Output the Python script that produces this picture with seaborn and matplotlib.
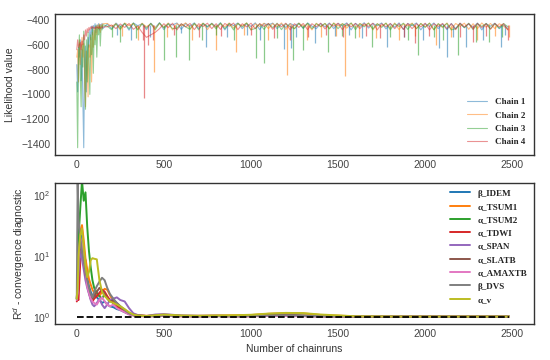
import numpy as np
import pandas as pd
import matplotlib
matplotlib.use("Agg")
import matplotlib.pyplot as plt
import seaborn as sns

# ---- likelihood traces (every 5 runs early, every 25 later)
runs_top = list(range(0, 155, 5)) + list(range(175, 2500, 25))

chain1 = [-760, -980, -620, -700, -560, -890, -640, -1050, -1430, -720, -610, -980, -700, -540, -620, -480,
          -560, -450, -520, -445, -470, -430, -500, -440, -455, -430, -480, -436, -448, -428, -470,
          -432, -470, -425, -455, -428, -482, -424, -446, -430, -478,
          -426, -462, -422, -478, -430, -440, -424, -476, -428, -450,
          -423, -470, -430, -458, -426, -455, -422, -480, -428, -445,
          -424, -470, -430, -452, -423, -478, -428, -440, -425, -470,
          -432, -460, -428, -445, -426, -468, -424, -450, -470, -428,
          -455, -424, -470, -428, -446, -423, -480, -427, -452, -422,
          -465, -428, -446, -424, -472, -430, -458, -423, -476, -428,
          -446, -424, -480, -430, -452, -424, -470, -432, -478, -428,
          -470, -426, -462, -430, -460, -424, -480, -430, -450, -426,
          -470, -440, -470]
chain2 = [-700, -640, -900, -560, -760, -620, -540, -700, -590, -880, -1100, -650, -760, -1020, -600, -700,
          -540, -900, -500, -620, -470, -560, -450, -520, -440, -470, -432, -500, -438, -455, -430,
          -428, -452, -430, -480, -424, -446, -428, -475, -426, -455,
          -430, -470, -428, -462, -424, -480, -430, -448, -423, -470,
          -430, -452, -426, -478, -428, -460, -430, -455, -424, -465,
          -428, -448, -424, -480, -430, -452, -426, -470, -428, -455,
          -424, -476, -430, -470, -425, -452, -430, -480, -426, -455,
          -428, -472, -424, -448, -430, -466, -426, -462, -428, -446,
          -424, -480, -430, -450, -426, -468, -424, -478, -430, -448,
          -425, -470, -428, -455, -426, -480, -430, -462, -424, -476,
          -428, -450, -426, -475, -430, -470, -424, -458, -428, -470,
          -430, -450, -478]
chain3 = [-900, -1430, -700, -520, -850, -1100, -600, -780, -490, -640, -1120, -560, -900, -500, -760, -1000,
          -520, -680, -460, -830, -480, -600, -445, -700, -460, -520, -440, -610, -450, -480, -438,
          -450, -478, -432, -470, -428, -470, -425, -480, -430, -465,
          -428, -480, -424, -462, -430, -470, -466, -432, -455, -476,
          -428, -480, -426, -452, -430, -472, -425, -470, -430, -480,
          -428, -455, -424, -480, -468, -430, -476, -428, -462, -426,
          -478, -430, -455, -470, -428, -466, -426, -470, -430, -452,
          -428, -470, -426, -470, -430, -448, -424, -478, -430, -455,
          -426, -472, -430, -460, -425, -480, -430, -452, -426, -476,
          -430, -470, -428, -460, -425, -478, -430, -455, -428, -480,
          -470, -430, -462, -426, -478, -430, -452, -428, -470, -430,
          -466, -428, -455]
chain4 = [-640, -560, -620, -600, -580, -640, -570, -600, -520, -560, -480, -530, -470, -500, -460, -480,
          -455, -470, -450, -465, -460, -470, -455, -462, -458, -468, -452, -470, -460, -465, -455,
          -455, -440, -470, -432, -460, -428, -475, -450, -500, -540,
          -520, -500, -470, -430, -462, -426, -480, -430, -455, -428,
          -478, -430, -452, -426, -470, -430, -476, -428, -450, -425,
          -478, -430, -455, -426, -470, -430, -452, -428, -475, -430,
          -455, -426, -480, -430, -460, -428, -478, -430, -455, -426,
          -472, -430, -450, -426, -478, -430, -455, -428, -470, -430,
          -452, -426, -480, -430, -455, -428, -470, -430, -476, -428,
          -470, -430, -455, -426, -480, -430, -452, -428, -470, -430,
          -478, -426, -455, -430, -470, -428, -462, -430, -475, -428,
          -455, -430, -480]

# single-sample drops of each chain (run, likelihood)
spike_runs1 = [230, 310, 420, 600, 742, 860, 980, 1050, 1187, 1227, 1260, 1370, 1480, 1560, 1640, 1781,
               1880, 1990, 2081, 2125, 2160, 2232, 2330, 2434, 2460]
spike_vals1 = [-520, -560, -540, -505, -615, -540, -520, -560, -630, -625, -540, -585, -530, -520, -545, -615,
               -540, -560, -629, -696, -540, -615, -560, -615, -520]
spike_runs2 = [260, 350, 445, 520, 660, 799, 913, 960, 1100, 1205, 1320, 1400, 1490, 1541, 1620, 1720,
               1850, 1940, 2062, 2150, 2300, 2400, 2480]
spike_vals2 = [-530, -560, -817, -540, -560, -642, -655, -520, -560, -843, -560, -540, -530, -850, -540, -545,
               -560, -530, -600, -540, -560, -530, -540]
spike_runs3 = [200, 250, 340, 502, 571, 645, 720, 800, 900, 1027, 1073, 1150, 1244, 1301, 1444, 1520, 1600,
               1695, 1800, 1900, 1958, 2050, 2100, 2186, 2289, 2367, 2440]
spike_vals3 = [-540, -580, -545, -723, -696, -723, -560, -520, -560, -709, -750, -545, -723, -642, -655, -530,
               -545, -618, -540, -560, -682, -540, -560, -682, -575, -575, -540]
spike_runs4 = [380, 388, 410, 440, 560, 700, 830, 1000, 1130, 1225, 1330, 1430, 1530, 1660, 1740, 1880,
               1939, 2020, 2200, 2275, 2350, 2476]
spike_vals4 = [-560, -1030, -600, -560, -520, -540, -530, -520, -545, -560, -540, -520, -540, -530, -545, -540,
               -588, -530, -540, -575, -530, -560]
chain_names = ["Chain 1", "Chain 2", "Chain 3", "Chain 4"]

# ---- convergence diagnostic
runs_bot = [0, 5, 10, 20, 30, 40, 50, 60, 70, 80, 90, 100, 115, 130, 145, 160, 175, 190, 210, 230,
            250, 275, 300, 325, 350, 400, 450, 500, 600, 700, 800, 900, 1000, 1100, 1200, 1300, 1400,
            1600, 1900, 2200, 2480]
b_idem = [2.0, 2.4, 6.0, 14, 22, 11, 8.5, 4.5, 3.2, 2.6, 2.2, 2.4, 2.1, 1.9, 1.7, 1.8, 1.6, 1.5, 1.45, 1.35,
          1.3, 1.2, 1.12, 1.08, 1.06, 1.04, 1.05, 1.06, 1.04, 1.03, 1.04, 1.03, 1.04, 1.05, 1.06, 1.04, 1.03,
          1.02, 1.02, 1.02, 1.02]
a_tsum1 = [1.9, 3.5, 12, 25, 32, 18, 9, 6, 4.2, 3.4, 2.8, 2.5, 2.3, 2.2, 2.6, 2.9, 2.8, 2.3, 1.8, 1.6,
           1.45, 1.3, 1.15, 1.1, 1.08, 1.05, 1.06, 1.08, 1.05, 1.05, 1.06, 1.07, 1.08, 1.13, 1.16, 1.15, 1.08,
           1.03, 1.02, 1.02, 1.02]
a_tsum2 = [2.0, 3.0, 20, 60, 170, 80, 110, 30, 12, 6.5, 4.0, 3.0, 2.5, 2.2, 2.0, 2.4, 2.1, 1.9, 1.7, 1.5,
           1.35, 1.25, 1.12, 1.07, 1.05, 1.03, 1.04, 1.05, 1.04, 1.03, 1.04, 1.03, 1.04, 1.06, 1.07, 1.05, 1.03,
           1.02, 1.02, 1.02, 1.02]
a_tdwi = [1.8, 2.0, 1.9, 8, 15, 10, 6, 3.5, 2.5, 2.0, 1.8, 2.0, 2.2, 2.5, 2.8, 2.6, 2.2, 1.9, 1.7, 1.5,
          1.35, 1.22, 1.12, 1.07, 1.05, 1.03, 1.04, 1.05, 1.03, 1.03, 1.04, 1.03, 1.03, 1.05, 1.06, 1.04, 1.03,
          1.02, 1.02, 1.02, 1.02]
a_span = [2.2, 2.6, 5.5, 12, 9, 6, 4.0, 3.0, 2.4, 1.9, 1.6, 1.5, 1.7, 2.0, 1.6, 1.4, 1.6, 1.9, 2.0, 2.1,
          1.9, 1.8, 1.4, 1.15, 1.08, 1.04, 1.1, 1.12, 1.06, 1.05, 1.05, 1.04, 1.05, 1.04, 1.05, 1.04, 1.03,
          1.02, 1.02, 1.02, 1.02]
a_slatb = [2.1, 2.8, 8, 18, 14, 9, 5, 3.6, 2.8, 2.3, 2.0, 2.2, 2.6, 3.0, 2.7, 2.4, 2.0, 1.8, 1.9, 1.7,
           1.5, 1.3, 1.15, 1.1, 1.06, 1.04, 1.06, 1.08, 1.05, 1.04, 1.05, 1.04, 1.05, 1.07, 1.08, 1.06, 1.03,
           1.02, 1.02, 1.02, 1.02]
a_amaxtb = [1.9, 2.5, 9, 20, 16, 8, 5.5, 3.2, 2.5, 2.0, 1.8, 1.7, 1.6, 1.9, 2.1, 1.8, 1.6, 1.5, 1.6, 1.4,
            1.3, 1.2, 1.1, 1.06, 1.04, 1.02, 1.03, 1.04, 1.03, 1.02, 1.03, 1.02, 1.03, 1.04, 1.04, 1.03, 1.02,
            1.02, 1.02, 1.02, 1.02]
b_dvs = [2.0, 160, 40, 20, 12, 8, 5.5, 4.0, 3.0, 2.4, 2.1, 2.6, 3.2, 3.8, 4.4, 4.0, 3.0, 2.4, 2.0, 1.7,
         1.5, 1.3, 1.15, 1.08, 1.05, 1.03, 1.04, 1.06, 1.04, 1.03, 1.04, 1.03, 1.04, 1.06, 1.07, 1.05, 1.03,
         1.02, 1.02, 1.02, 1.02]
a_v = [2.0, 3.0, 10, 22, 28, 14, 7, 4.5, 5.5, 8.5, 9.2, 9.0, 8.8, 4.0, 2.6, 2.2, 2.0, 1.8, 1.7, 1.6,
       1.5, 1.35, 1.2, 1.1, 1.06, 1.04, 1.07, 1.1, 1.06, 1.05, 1.06, 1.07, 1.09, 1.14, 1.17, 1.16, 1.1,
       1.03, 1.02, 1.02, 1.02]
param_names = ["β_IDEM", "α_TSUM1", "α_TSUM2", "α_TDWI", "α_SPAN", "α_SLATB", "α_AMAXTB", "β_DVS", "α_v"]
threshold = 1.0

sns.set_style("white")
plt.rcParams["font.family"] = ["Liberation Sans", "DejaVu Sans"]
pal = sns.color_palette("tab10")
legend_font = {"family": "Liberation Serif", "weight": "bold", "size": 6.5}

fig = plt.figure(figsize=(5.5, 3.6), dpi=100)
ax1 = fig.add_axes([0.10, 0.569, 0.871, 0.392])
ax2 = fig.add_axes([0.10, 0.10, 0.871, 0.392])

# top: likelihood traces
chains = [chain1, chain2, chain3, chain4]
spikes = [(spike_runs1, spike_vals1), (spike_runs2, spike_vals2),
          (spike_runs3, spike_vals3), (spike_runs4, spike_vals4)]
for i, name in enumerate(chain_names):
    sns.lineplot(x=runs_top, y=chains[i], ax=ax1, color=pal[i], alpha=0.5, linewidth=0.8, label=name)
    ax1.vlines(spikes[i][0], spikes[i][1], -440, color=pal[i], alpha=0.55, linewidth=0.9)
ax1.set_ylim(-1490, -352)
ax1.set_yticks(range(-1400, -399, 200))
ax1.set_xticks(range(0, 2501, 500))
ax1.set_ylabel("Likelihood value", fontsize=7.5, color="#333333")
ax1.legend(loc="lower right", frameon=False, prop=legend_font, handlelength=2.2,
           handletextpad=0.9, labelspacing=0.55, borderaxespad=0.6)

# bottom: R-hat diagnostic
series = [b_idem, a_tsum1, a_tsum2, a_tdwi, a_span, a_slatb, a_amaxtb, b_dvs, a_v]
for i, (name, vals) in enumerate(zip(param_names, series)):
    sns.lineplot(x=runs_bot, y=vals, ax=ax2, color=pal[i], linewidth=1.4, label=name)
ax2.plot([runs_bot[0], runs_bot[-1]], [threshold, threshold], "k--", linewidth=1.3)
ax2.set_yscale("log")
ax2.set_ylim(0.77, 157)
ax2.set_xticks(range(0, 2501, 500))
ax2.minorticks_off()
ax2.set_ylabel("R$^d$ - convergence diagnostic", fontsize=7.5, color="#333333")
ax2.set_xlabel("Number of chainruns", fontsize=7.5, color="#333333")
ax2.legend(loc="upper right", frameon=False, prop=legend_font, handlelength=2.2,
           handletextpad=0.9, labelspacing=0.55, borderaxespad=0.3)

for ax in (ax1, ax2):
    ax.set_xlim(-125, 2625)
    ax.tick_params(labelsize=7.5, labelcolor="#444444", length=0)
    for s in ax.spines.values():
        s.set_color("#333333")
        s.set_linewidth(1.0)

fig.savefig("out.png", dpi=100)
